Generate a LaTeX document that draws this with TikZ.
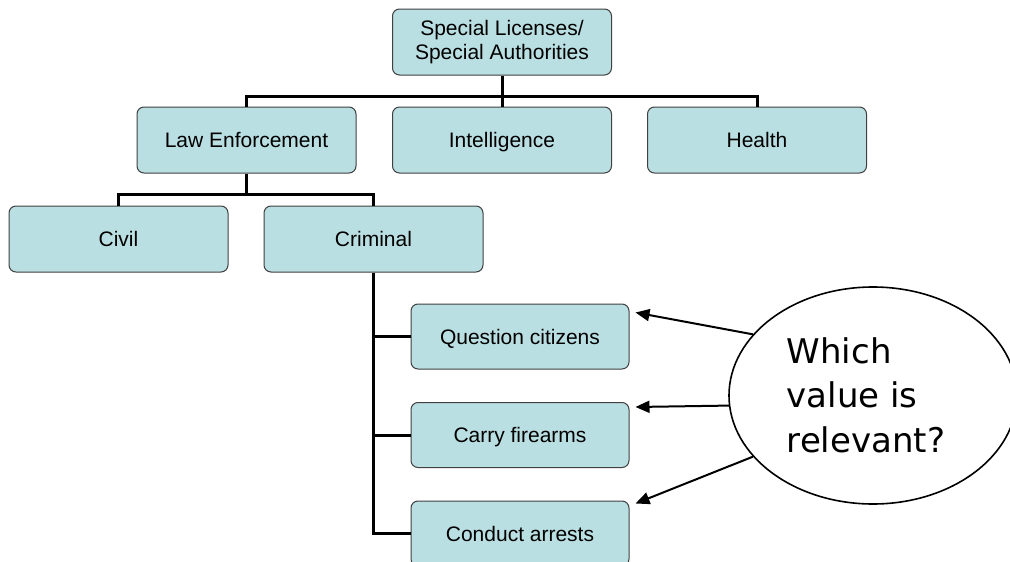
\documentclass[tikz,border=0pt]{standalone}
\usepackage{fontspec}
\setmainfont{Liberation Sans}
\newfontfamily\bubblefont{DejaVu Sans}
\usetikzlibrary{arrows.meta,shapes.geometric,calc}
\definecolor{boxfill}{RGB}{186,223,226}
\definecolor{boxline}{RGB}{64,64,64}
\begin{document}
\begin{tikzpicture}[x=1pt,y=-1pt,
  orgbase/.style={draw=boxline, line width=1pt, fill=boxfill, rounded corners=7pt,
    minimum width=219pt, minimum height=66pt, inner sep=0pt,
    font=\fontsize{21}{24}\selectfont, align=center},
  orgbox/.style={orgbase, text height=15pt, text depth=0pt},
  tree/.style={line width=3pt, line join=miter},
  pointer/.style={line width=2pt, -{Triangle[length=14pt,width=12pt]}},
  bubble/.style={draw, line width=1.6pt, ellipse, minimum width=288pt,
    minimum height=217pt, inner sep=0pt}
]
\clip (0,0) rectangle (1010,562);
\fill[white] (0,0) rectangle (1010,562);

% hierarchy boxes
\node[orgbase] (top) at (502,42) {Special Licenses/\\Special Authorities};
\node[orgbox] (le) at (246.5,140) {Law Enforcement};
\node[orgbox] (intel) at (502,140) {Intelligence};
\node[orgbox] (health) at (757,140) {Health};
\node[orgbox] (civil) at (118.5,239) {Civil};
\node[orgbox] (crim) at (373.5,239) {Criminal};
\node[orgbox, minimum width=218pt, minimum height=65pt] (quest) at (520,336.5) {Question citizens};
\node[orgbox, minimum width=218pt, minimum height=65pt] (carry) at (520,435) {Carry firearms};
\node[orgbox, minimum width=218pt, minimum height=65pt] (arrest) at (520,533.5) {Conduct arrests};

% tree connectors
\draw[tree] (top.south) -- ++(0,21) coordinate (j1);
\draw[tree] (le.north) |- (j1) -| (health.north);
\draw[tree] (j1) -- (intel.north);
\draw[tree] (le.south) -- ++(0,21) coordinate (j2);
\draw[tree] (civil.north) |- (j2) -| (crim.north);
\draw[tree] (crim.south) |- (quest.west);
\draw[tree] (crim.south) |- (carry.west);
\draw[tree] (crim.south) |- (arrest.west);

% question bubble
\node[bubble] (ask) at (873,395.5) {};
\node[font=\bubblefont\fontsize{34}{44.5}\selectfont, align=left] (asktext) at (866,395) {Which\\value is\\relevant?};

% pointers
\draw[pointer] (ask.153.2) -- ($(quest.north east)+(6,9)$);
\draw[pointer] (ask.184.6) -- ($(carry.north east)+(6,5)$);
\draw[pointer] (ask.207.1) -- ($(arrest.north east)+(6,3)$);
\end{tikzpicture}
\end{document}
